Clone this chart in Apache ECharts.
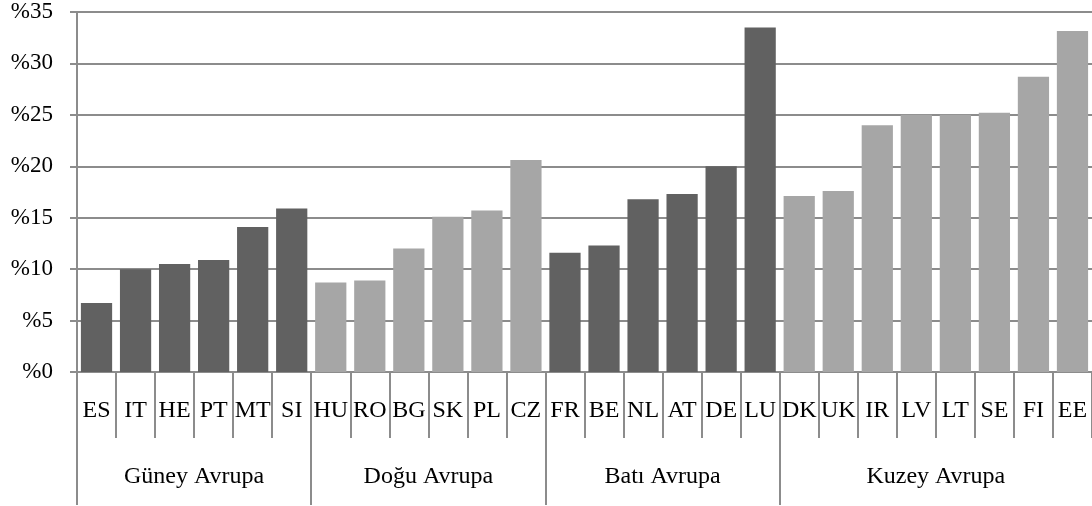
<!DOCTYPE html>
<html>
<head>
<meta charset="utf-8">
<script src="https://cdn.jsdelivr.net/npm/echarts@6/dist/echarts.min.js"></script>
<style>html,body{margin:0;padding:0;background:#fff}#c{width:1092px;height:506px}</style>
</head>
<body>
<div id="c"></div>
<script>
const categories = ['ES','IT','HE','PT','MT','SI','HU','RO','BG','SK','PL','CZ','FR','BE','NL','AT','DE','LU','DK','UK','IR','LV','LT','SE','FI','EE'];
const values = [6.7,10.0,10.5,10.9,14.1,15.9,8.7,8.9,12.0,15.1,15.7,20.6,11.6,12.3,16.8,17.3,20.0,33.5,17.1,17.6,24.0,25.0,25.0,25.2,28.7,33.15];
const groupNames = ['Güney Avrupa','Doğu Avrupa','Batı Avrupa','Kuzey Avrupa'];
const groupSizes = [6,6,6,8];
const groupColors = ['#616161','#a6a6a6','#616161','#a6a6a6'];
const yTicks = [0,5,10,15,20,25,30,35];

const groupStarts = [];
const groupCenters = [];
let acc = 0;
groupSizes.forEach(s => { groupStarts.push(acc); groupCenters.push(acc + s / 2); acc += s; });
function groupOf(i) { for (let g = groupStarts.length - 1; g >= 0; g--) if (i >= groupStarts[g]) return g; return 0; }

const font = '"Liberation Serif", "Times New Roman", serif';
const gray = '#8c8c8c';
const chart = echarts.init(document.getElementById('c'));
chart.setOption({
  animation: false,
  grid: { left: 77, right: 0, top: 12, bottom: 134 },
  xAxis: [{
    type: 'category', data: categories, position: 'bottom',
    axisLine: { show: true, lineStyle: { color: gray, width: 2 } },
    axisTick: { show: true, interval: 0, length: 66, lineStyle: { color: gray, width: 2 } },
    axisLabel: { interval: 0, margin: 27, fontFamily: font, fontSize: 24, color: '#000' }
  }, {
    type: 'value', min: 0, max: acc, position: 'bottom',
    axisLine: { show: false },
    splitLine: { show: false },
    axisTick: { show: true, customValues: groupStarts, length: 133, lineStyle: { color: gray, width: 2 } },
    axisLabel: { customValues: groupCenters, margin: 93, fontFamily: font, fontSize: 24, color: '#000',
      formatter: v => groupNames[groupCenters.indexOf(v)] || '' }
  }],
  yAxis: {
    type: 'value', min: yTicks[0], max: yTicks[yTicks.length - 1], interval: 5,
    axisLine: { show: true, lineStyle: { color: gray, width: 2 } },
    axisTick: { show: true, length: 7, lineStyle: { color: gray, width: 2 } },
    splitLine: { show: true, lineStyle: { color: gray, width: 2 } },
    axisLabel: { margin: 24, fontFamily: font, fontSize: 23, color: '#000', formatter: v => '%' + v }
  },
  series: [{
    type: 'bar', xAxisIndex: 0, data: values, barCategoryGap: '20%',
    itemStyle: { color: p => groupColors[groupOf(p.dataIndex)] }
  }]
});
</script>
</body>
</html>
